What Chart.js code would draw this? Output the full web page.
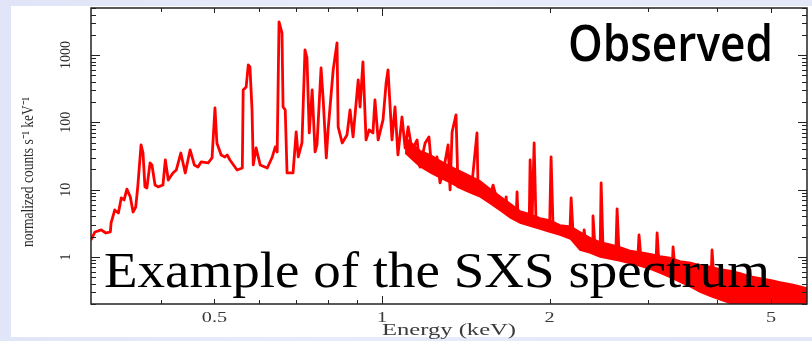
<!DOCTYPE html>
<html>
<head>
<meta charset="utf-8">
<script src="https://cdn.jsdelivr.net/npm/chart.js@4.4.1/dist/chart.umd.min.js"></script>
<style>
  html, body { margin: 0; padding: 0; }
  body { width: 812px; height: 341px; overflow: hidden; position: relative;
    background: linear-gradient(100deg, #dfe5f7 0%, #e8ecfa 40%, #e3e8f8 100%); }
  #panel { position: absolute; left: 11px; top: 6px; width: 801px; height: 331px; background: #fff; }
  #chart { position: absolute; left: 0; top: 0; }
  .ov { position: absolute; left: 0; top: 0; white-space: nowrap; transform-origin: 0 0; line-height: 1; color: #000; }
  .bl { display: inline-block; width: 0; height: 0; vertical-align: baseline; }
  #observed { font-family: "Open Sans", sans-serif; font-weight: 600; font-size: 50px; }
  #caption { font-family: "Liberation Serif", serif; font-size: 50px; }
</style>
</head>
<body>
<div id="panel"></div>
<canvas id="chart" width="812" height="341"></canvas>
<div class="ov" id="observed">Observed<i class="bl"></i></div>
<div class="ov" id="caption">Example of the SXS spectrum<i class="bl"></i></div>
<script>
// spectrum: energy (keV) and normalized counts
const lineEnergy = [
  0.300, 0.305, 0.313, 0.319, 0.325, 0.326, 0.331, 0.336, 0.340, 0.344,
  0.348, 0.353, 0.357, 0.361, 0.364, 0.369, 0.372, 0.375, 0.378, 0.383,
  0.386, 0.391, 0.396, 0.404, 0.408, 0.413, 0.421, 0.427, 0.435, 0.443,
  0.452, 0.460, 0.467, 0.473, 0.487, 0.495, 0.501, 0.505, 0.514, 0.522,
  0.527, 0.533, 0.549, 0.561, 0.563, 0.570, 0.575, 0.579, 0.584, 0.587,
  0.594, 0.604, 0.622, 0.635, 0.643, 0.648, 0.653, 0.661, 0.664, 0.670,
  0.675, 0.692, 0.701, 0.707, 0.718, 0.727, 0.733, 0.740, 0.749, 0.758,
  0.764, 0.777, 0.784, 0.794, 0.800, 0.817, 0.830, 0.834, 0.848, 0.865,
  0.876, 0.887, 0.906, 0.913, 0.924, 0.936, 0.948, 0.963, 0.971, 0.984,
  1.004, 1.017, 1.025, 1.042, 1.055, 1.068, 1.086, 1.100, 1.114, 1.132,
  1.156, 1.170, 1.195, 1.214, 1.230, 1.255, 1.271, 1.287, 1.314, 1.325,
  1.336, 1.358, 1.369, 1.398, 1.427, 1.451, 1.481, 1.488, 1.519, 1.563,
  1.583, 1.609, 1.629, 1.663, 1.671, 1.677, 1.713, 1.742, 1.748, 1.755,
  1.807, 1.838, 1.845, 1.860, 1.876, 1.891, 1.963, 2.000, 2.012, 2.029,
  2.106, 2.175, 2.186, 2.204, 2.268, 2.300, 2.307, 2.326, 2.385, 2.393,
  2.414, 2.465, 2.475, 2.495, 2.568, 2.630, 2.644, 2.666, 2.790, 2.880,
  2.895, 2.920, 3.030, 3.105, 3.120, 3.145, 3.251, 3.320, 3.333, 3.361,
  3.576, 3.900, 3.916, 3.950, 4.220, 4.565, 4.583, 4.621, 4.980, 5.408,
  5.800
];
const lineCounts = [
  1.79, 2.35, 2.52, 2.27, 2.35, 3.20, 4.99, 4.51, 7.53, 7.03,
  10.2, 7.79, 4.66, 5.53, 11.0, 46.2, 35.1, 11.0, 10.6, 24.9,
  23.3, 11.7, 11.0, 11.7, 27.6, 13.9, 17.7, 19.6, 35.0, 17.7,
  38.9, 23.3, 21.7, 25.8, 24.9, 29.6, 164, 49.4, 32.8, 30.6,
  32.8, 27.6, 19.6, 21.0, 303, 336, 713, 666, 153, 23.3,
  41.6, 23.3, 21.0, 30.6, 43.1, 36.3, 3103, 2130, 169, 153,
  17.7, 17.7, 72.0, 30.6, 49.4, 1191, 905, 69.6, 303, 36.3,
  46.2, 643, 215, 29.6, 77.1, 601, 1513, 85.4, 49.4, 65.0,
  153, 60.7, 427, 169, 790, 54.8, 77.1, 69.6, 215, 54.8,
  109, 385, 601, 54.8, 169, 32.8, 120, 41.6, 85.4, 38.9,
  54.8, 21.7, 49.4, 60.7, 17.7, 30.6, 12.6, 17.7, 46.2, 9.90,
  72.0, 129, 11.0, 13.9, 9.90, 12.6, 69.6, 8.93, 11.0, 7.79,
  11.7, 7.03, 5.93, 4.99, 7.79, 4.66, 4.21, 4.00, 9.24, 3.93,
  3.31, 3.20, 27.6, 3.55, 49.4, 2.99, 2.89, 2.80, 30.6, 2.70,
  2.52, 2.35, 7.53, 2.27, 1.79, 1.75, 2.52, 1.51, 1.45, 4.07,
  1.36, 1.30, 12.6, 1.27, 1.19, 1.12, 5.17, 1.07, 0.966, 0.93,
  2.12, 0.903, 0.843, 0.80, 2.27, 0.761, 0.686, 0.66, 1.41, 0.619,
  0.505, 0.45, 1.27, 0.425, 0.358, 0.33, 0.641, 0.302, 0.263, 0.246,
  0.230
];

// dense noisy continuum above ~1.1 keV: upper and lower edge of the red band
const bandEnergy = [1.100, 1.170, 1.220, 1.271, 1.330, 1.381, 1.440, 1.500, 1.560, 1.629,
  1.700, 1.770, 1.850, 1.922, 2.000, 2.088, 2.180, 2.268, 2.360, 2.465, 2.570,
  2.677, 2.790, 2.907, 3.030, 3.159, 3.290, 3.430, 3.580, 3.727, 3.890, 4.048,
  4.220, 4.398, 4.580, 4.776, 4.980, 5.189, 5.480, 5.800];
const bandUpper = [60.0, 38.0, 33.0, 27.0, 22.0, 19.0, 16.0, 13.5, 10.5, 8.0,
  6.2, 4.83, 4.3, 3.80, 3.55, 2.99, 2.85, 2.35, 1.95, 1.67, 1.55,
  1.41, 1.25, 1.19, 1.12, 1.03, 0.98, 0.872, 0.83, 0.761, 0.72, 0.663,
  0.63, 0.578, 0.52, 0.488, 0.46, 0.425, 0.39, 0.346];
const bandLower = [35.0, 22.0, 18.0, 15.0, 12.5, 10.5, 9.0, 7.8, 6.3, 4.9,
  3.8, 3.20, 2.85, 2.61, 2.35, 2.12, 1.85, 1.27, 1.15, 1.00, 0.93,
  0.872, 0.80, 0.735, 0.66, 0.578, 0.50, 0.425, 0.36, 0.302, 0.26, 0.230,
  0.205, 0.187, 0.175, 0.163, 0.157, 0.152, 0.147, 0.142];

const xTickLabels = [0.5, 1, 2, 5];
const xTicks = [0.4, 0.5, 0.6, 0.7, 0.8, 0.9, 1, 2, 3, 4, 5];
const yTickLabels = [1, 10, 100, 1000];

const RED = "#ff0000";
const pts = (xs, ys) => xs.map((x, i) => ({ x: x, y: ys[i] }));

// draw text centred at (cx, cy), squeezed or stretched to a given length
function fitText(ctx, text, cx, cy, length, angle) {
  const w = ctx.measureText(text).width;
  ctx.save();
  ctx.translate(cx, cy);
  if (angle) ctx.rotate(angle);
  ctx.scale(length / w, 1);
  ctx.fillText(text, 0, 0);
  ctx.restore();
}

const frame = {
  id: "frame",
  afterDatasetsDraw(chart) {
    const { ctx, chartArea: a, scales: { x, y } } = chart;
    ctx.save();
    ctx.strokeStyle = "#222";
    ctx.lineWidth = 1.5;
    ctx.strokeRect(a.left, a.top, a.right - a.left, a.bottom - a.top);

    ctx.lineWidth = 1;
    ctx.beginPath();
    for (let k = -1; k <= 3; k++) {
      for (let m = 1; m <= 9; m++) {
        const v = m * Math.pow(10, k);
        if (v < y.min || v > y.max) continue;
        const py = Math.round(y.getPixelForValue(v)) + 0.5;
        const len = m === 1 ? 9 : 5;
        ctx.moveTo(a.left, py); ctx.lineTo(a.left + len, py);
        ctx.moveTo(a.right, py); ctx.lineTo(a.right - len, py);
      }
    }
    xTicks.forEach((v) => {
      const px = Math.round(x.getPixelForValue(v)) + 0.5;
      const len = v === 1 ? 8 : (xTickLabels.includes(v) ? 5 : 4);
      ctx.moveTo(px, a.bottom); ctx.lineTo(px, a.bottom - len);
      ctx.moveTo(px, a.top); ctx.lineTo(px, a.top + len);
    });
    ctx.stroke();

    ctx.fillStyle = "#2a2a2a";
    ctx.textAlign = "center";
    ctx.textBaseline = "middle";

    ctx.font = "15px 'Liberation Serif', serif";
    yTickLabels.forEach((v) => {
      const t = String(v);
      fitText(ctx, t, 66, y.getPixelForValue(v), 7 * t.length, -Math.PI / 2);
    });
    ctx.font = "16px 'Liberation Serif', serif";
    fitText(ctx, "normalized counts s\u207B\u00B9 keV\u207B\u00B9", 29, 172, 150, -Math.PI / 2);

    ctx.fillStyle = "#3a3a3a";
    ctx.font = "15px 'Liberation Serif', serif";
    xTickLabels.forEach((v) => {
      const t = String(v);
      const w = ctx.measureText(t).width;
      fitText(ctx, t, x.getPixelForValue(v), 318, w * 1.35);
    });
    ctx.font = "16px 'Liberation Serif', serif";
    fitText(ctx, "Energy (keV)", (a.left + a.right) / 2, 331, 134);

    ctx.restore();
  },
};

new Chart(document.getElementById("chart"), {
  type: "line",
  data: {
    datasets: [
      { data: pts(bandEnergy, bandLower), borderColor: RED, borderWidth: 1.5, pointRadius: 0, fill: false },
      { data: pts(bandEnergy, bandUpper), borderColor: RED, borderWidth: 1.5, pointRadius: 0,
        fill: "-1", backgroundColor: RED },
      { data: pts(lineEnergy, lineCounts), borderColor: RED, borderWidth: 2.8, pointRadius: 0,
        fill: false, borderJoinStyle: "round" },
    ],
  },
  options: {
    responsive: false,
    animation: false,
    devicePixelRatio: 1,
    layout: { padding: { left: 11, right: 5, top: 8, bottom: 0 } },
    plugins: { legend: { display: false }, tooltip: { enabled: false } },
    elements: { line: { tension: 0 } },
    scales: {
      x: {
        type: "logarithmic",
        min: 0.3,
        max: 5.8,
        ticks: { display: false },
        grid: { display: false, drawTicks: false },
        border: { display: false },
        afterFit: (s) => { s.height = 37; },
      },
      y: {
        type: "logarithmic",
        min: 0.2,
        max: 5000,
        ticks: { display: false },
        grid: { display: false, drawTicks: false },
        border: { display: false },
        afterFit: (s) => { s.width = 80; },
      },
    },
  },
  plugins: [frame],
});

// big overlay words: fit each one to its box in the picture
function placeText(id, left, right, baseline) {
  const el = document.getElementById(id);
  const r = el.getBoundingClientRect();
  const b = el.querySelector(".bl").getBoundingClientRect().top - r.top;
  const sx = (right - left) / r.width;
  el.style.transform = `translate(${left}px, ${baseline - b}px) scaleX(${sx})`;
}
placeText("observed", 568, 773, 61);
placeText("caption", 104, 770, 287);
</script>
</body>
</html>
